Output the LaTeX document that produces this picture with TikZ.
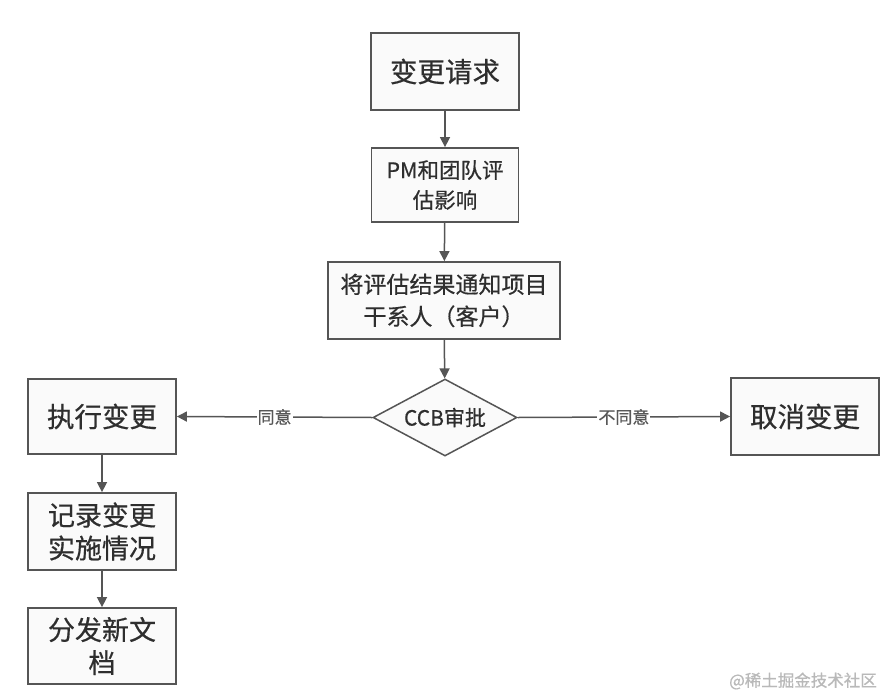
\documentclass[tikz,border=0pt]{standalone}
\usepackage{fontspec}
\setmainfont{Noto Sans CJK SC}[FakeBold=0.5]
\usetikzlibrary{shapes.geometric,arrows.meta}
\definecolor{linegray}{HTML}{555555}
\definecolor{txtgray}{HTML}{2E2E2E}
\definecolor{boxfill}{HTML}{FAFAFA}
\begin{document}
\begin{tikzpicture}[x=1pt,y=-1pt,
  box/.style={draw=linegray,line width=1.8pt,fill=boxfill,text=txtgray,align=center,inner sep=0pt,anchor=center},
  conn/.style={draw=linegray,line width=1.5pt,-{Triangle[length=10pt,width=10pt]}},
  lab/.style={fill=white,text=txtgray!80,inner sep=1pt,font=\fontsize{17}{19}\selectfont}]
\useasboundingbox (0,0) rectangle (891,696);
\fill[white] (0,0) rectangle (891,696);
\node[box,minimum width=148pt,minimum height=77pt,font=\fontsize{27.5}{30}\selectfont] (req) at (445,71.5) {变更请求};
\node[box,minimum width=147pt,minimum height=74pt,font=\fontsize{21.5}{30}\selectfont] (pm) at (445,185) {PM和团队评\\估影响};
\node[box,minimum width=232pt,minimum height=77pt,font=\fontsize{23}{32}\selectfont] (notify) at (444,300.5) {将评估结果通知项目\\干系人（客户）};
\node[draw=linegray,line width=1.5pt,fill=boxfill,text=txtgray,diamond,aspect=1.87,minimum width=144pt,minimum height=77pt,inner sep=0pt,font=\fontsize{21}{24}\selectfont] (ccb) at (445,417.5) {CCB审批};
\node[box,minimum width=148pt,minimum height=75pt,font=\fontsize{27.5}{30}\selectfont] (exec) at (102,416.5) {执行变更};
\node[box,minimum width=148pt,minimum height=77pt,font=\fontsize{27.5}{33}\selectfont] (cancel) at (805,416.5) {取消变更};
\node[box,minimum width=148pt,minimum height=77pt,font=\fontsize{27}{33}\selectfont] (record) at (102,531.5) {记录变更\\实施情况};
\node[box,minimum width=148pt,minimum height=76pt,font=\fontsize{27}{33}\selectfont] (dist) at (102,646) {分发新文\\档};
\draw[conn] (req) -- (pm);
\draw[conn] (pm) -- (notify);
\draw[conn] (notify) -- (ccb);
\draw[conn] (ccb.west) -- node[lab] {同意} (exec.east);
\draw[conn] (ccb.east) -- node[lab] {不同意} (cancel.west);
\draw[conn] (exec) -- (record);
\draw[conn] (record) -- (dist);
\node[text=gray!55,font=\fontsize{16.5}{18}\selectfont,inner sep=0pt] (wm) at (803,681) {@稀土掘金技术社区};
\end{tikzpicture}
\end{document}
